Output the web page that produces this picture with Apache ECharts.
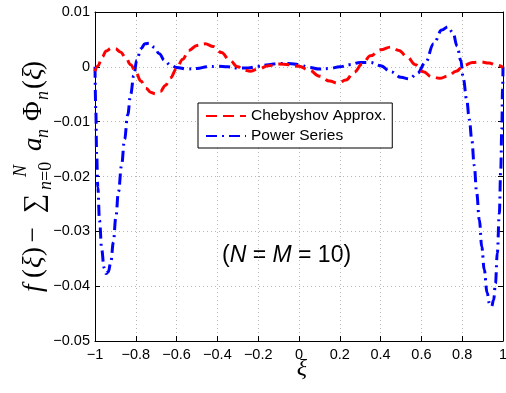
<!DOCTYPE html>
<html>
<head>
<meta charset="utf-8">
<script src="https://cdn.jsdelivr.net/npm/echarts@6/dist/echarts.min.js"></script>
<style>
html,body{margin:0;padding:0;background:#fff;}
#chart{width:506px;height:393px;}
</style>
</head>
<body>
<div id="chart"></div>
<script>
// ---- Data ----
const seriesNames = ['Chebyshov Approx.', 'Power Series'];

const chebX = [-1.0,-0.985,-0.965,-0.945,-0.92,-0.9,-0.875,-0.85,-0.825,-0.8,-0.775,-0.75,-0.725,-0.705,-0.68,-0.655,-0.63,-0.6,-0.57,-0.54,-0.5,-0.46,-0.42,-0.38,-0.34,-0.3,-0.27,-0.24,-0.2,-0.15,-0.1,-0.05,0.0,0.05,0.1,0.15,0.19,0.23,0.27,0.31,0.35,0.4,0.45,0.49,0.53,0.57,0.61,0.65,0.69,0.73,0.77,0.81,0.85,0.89,0.93,0.97,1.0];
const chebY = [-0.0008,0.0002,0.0018,0.0029,0.0034,0.0033,0.0027,0.0017,0.0004,-0.001,-0.0026,-0.0039,-0.0047,-0.0049,-0.0045,-0.0034,-0.002,-0.0003,0.0014,0.003,0.0039,0.0042,0.0037,0.0026,0.0012,0.0,-0.0006,-0.0008,-0.0004,0.0002,0.0005,0.0004,0.0001,-0.0006,-0.0017,-0.0026,-0.003,-0.0024,-0.001,0.0005,0.002,0.0031,0.0036,0.003,0.0018,0.0004,-0.0009,-0.0018,-0.0021,-0.0017,-0.0008,0.0003,0.0008,0.0009,0.0007,0.0003,-0.0001];

const powX = [-1.0,-0.996,-0.992,-0.986,-0.978,-0.967,-0.956,-0.946,-0.935,-0.922,-0.91,-0.898,-0.885,-0.87,-0.855,-0.84,-0.825,-0.81,-0.795,-0.775,-0.755,-0.735,-0.71,-0.685,-0.66,-0.63,-0.6,-0.55,-0.5,-0.45,-0.4,-0.35,-0.3,-0.25,-0.2,-0.15,-0.1,-0.05,0.0,0.05,0.1,0.15,0.2,0.25,0.3,0.35,0.4,0.45,0.5,0.54,0.58,0.62,0.66,0.7,0.73,0.755,0.775,0.793,0.806,0.822,0.835,0.847,0.859,0.871,0.884,0.896,0.908,0.922,0.934,0.944,0.954,0.963,0.972,0.982,0.989,0.994,0.998,1.0];
const powY = [0.0,-0.008,-0.016,-0.022,-0.028,-0.0333,-0.0366,-0.0377,-0.0374,-0.0355,-0.032,-0.0275,-0.0228,-0.018,-0.0132,-0.0088,-0.005,-0.0016,0.0012,0.0033,0.0042,0.0043,0.0036,0.0024,0.0012,0.0003,-0.0001,-0.0004,-0.0003,0.0,0.0001,0.0,-0.0002,-0.0002,0.0001,0.0004,0.0006,0.0006,0.0004,-0.0001,-0.0004,-0.0003,0.0,0.0004,0.0008,0.0008,0.0002,-0.0009,-0.0019,-0.0022,-0.0012,0.0008,0.0042,0.0067,0.0073,0.0062,0.0038,0.0012,-0.0023,-0.006,-0.0096,-0.0133,-0.018,-0.023,-0.0279,-0.0328,-0.037,-0.0412,-0.0432,-0.0437,-0.0425,-0.0395,-0.034,-0.0267,-0.0187,-0.0114,-0.004,0.0];

const xTickLabels = ['\u22121','\u22120.8','\u22120.6','\u22120.4','\u22120.2','0','0.2','0.4','0.6','0.8','1'];
const yTickLabels = ['\u22120.05','\u22120.04','\u22120.03','\u22120.02','\u22120.01','0','0.01'];

// ---- Chart ----
const chart = echarts.init(document.getElementById('chart'), null, {renderer: 'canvas'});
const pairs = (xs, ys) => xs.map((x, i) => [x, ys[i]]);

const SANS = '"Liberation Sans", Arial, sans-serif';
const SERIF = '"Liberation Serif", "DejaVu Serif", serif';
const gridLine = {show: true, lineStyle: {color: '#b8b8b8', type: [1, 3], width: 1}};
const tick = {show: true, inside: true, length: 5, lineStyle: {color: '#000'}};
const axLine = {show: true, onZero: false, lineStyle: {color: '#000', width: 1}};

function xAx(pos, showLabel) {
  return {
    type: 'value', position: pos, min: -1, max: 1, interval: 0.2,
    axisLine: axLine, axisTick: tick,
    splitLine: showLabel ? gridLine : {show: false},
    axisLabel: {
      show: showLabel, margin: 6, color: '#000', fontFamily: SANS, fontSize: 14.5,
      formatter: (v) => xTickLabels[Math.round((v + 1) / 0.2)]
    }
  };
}
function yAx(pos, showLabel) {
  return {
    type: 'value', position: pos, min: -0.05, max: 0.01, interval: 0.01,
    axisLine: axLine, axisTick: tick,
    splitLine: showLabel ? gridLine : {show: false},
    axisLabel: {
      show: showLabel, margin: 5, color: '#000', fontFamily: SANS, fontSize: 14.5,
      formatter: (v) => yTickLabels[Math.round((v + 0.05) / 0.01)]
    }
  };
}

// y-axis label pieces (local coordinates along rotated baseline)
const S = 27, s = 18;
const it = (sz) => 'italic ' + sz + 'px ' + SERIF;
const up = (sz) => sz + 'px ' + SERIF;
function piece(text, x, y, font, align) {
  return {type: 'text', x: x, y: y, style: {text: text, font: font, fill: '#000', align: align || 'left', verticalAlign: 'middle'}};
}
const mainY = -0.3375 * S;
const yLabelChildren = [
  piece('f', 4, mainY, it(S)),
  piece('(', 18, mainY, up(S)),
  piece('\u03BE', 28, mainY, it(S)),
  piece(')', 40, mainY, up(S)),
  piece('\u2212', 61, mainY, up(S), 'center'),
  piece('\u2211', 92.5, mainY + 1, up(S), 'center'),
  piece('N', 119, -16 - 0.3375 * s, it(s)),
  {type: 'text', x: 106, y: 9 - 0.3375 * s, style: {
    text: '{i|n}=0', font: up(s), fill: '#000', align: 'left', verticalAlign: 'middle',
    rich: {i: {font: it(s)}}
  }},
  piece('a', 145, mainY, it(S)),
  piece('n', 158, 6 - 0.3375 * s, it(s)),
  piece('\u03A6', 175, mainY, up(S)),
  piece('n', 196, 6 - 0.3375 * s, it(s)),
  piece('(', 207, mainY, up(S)),
  piece('\u03BE', 216, mainY, it(S)),
  piece(')', 226, mainY, up(S))
];

const option = {
  animation: false,
  backgroundColor: '#fff',
  grid: {left: 95, right: 3, top: 12, bottom: 52, containLabel: false, outerBoundsMode: 'none',
         show: false},
  xAxis: [xAx('bottom', true), xAx('top', false)],
  yAxis: [yAx('left', true), yAx('right', false)],
  legend: {
    show: true, left: 198, top: 103, orient: 'vertical',
    padding: [5, 6, 4, 7], itemGap: 4, itemWidth: 40, itemHeight: 16,
    backgroundColor: '#fff', borderColor: '#000', borderWidth: 1, borderRadius: 0,
    itemStyle: {opacity: 0},
    lineStyle: {opacity: 1},
    textStyle: {color: '#000', fontFamily: SANS, fontSize: 15.5},
    data: seriesNames
  },
  series: [
    {
      name: seriesNames[0], type: 'line', xAxisIndex: 0, yAxisIndex: 0,
      data: pairs(chebX, chebY), symbol: 'none', smooth: 0.4, smoothMonotone: 'x',
      lineStyle: {color: '#ff0000', width: 3, type: [11, 6], cap: 'butt'},
      itemStyle: {color: '#ff0000'}, z: 3
    },
    {
      name: seriesNames[1], type: 'line', xAxisIndex: 0, yAxisIndex: 0,
      data: pairs(powX, powY), symbol: 'none', smooth: 0.4, smoothMonotone: 'x',
      lineStyle: {color: '#0000ff', width: 3, type: [11, 5, 2, 5], cap: 'butt'},
      itemStyle: {color: '#0000ff'}, z: 2
    }
  ],
  graphic: [
    {type: 'group', x: 43, y: 296, rotation: Math.PI / 2, children: yLabelChildren},
    {type: 'text', x: 302, y: 369, style: {text: '\u03BE', font: it(24), fill: '#000', align: 'center', verticalAlign: 'middle'}},
    {type: 'text', x: 222, y: 255.5, style: {
      text: '({i|N} = {i|M} = 10)', font: '23px ' + SANS, fill: '#000', align: 'left', verticalAlign: 'middle',
      rich: {i: {font: 'italic 23px ' + SANS}}
    }}
  ]
};
chart.setOption(option);
</script>
</body>
</html>
